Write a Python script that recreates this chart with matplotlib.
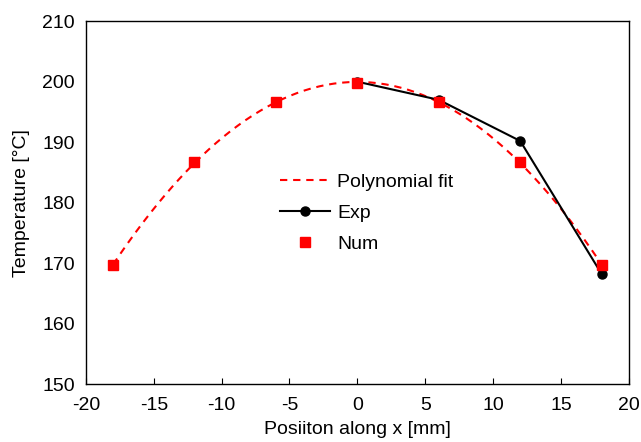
import numpy as np
import matplotlib
matplotlib.use("Agg")
import matplotlib.pyplot as plt

plt.rcParams['font.family'] = ['Liberation Sans', 'DejaVu Sans']
plt.rcParams['axes.unicode_minus'] = False

# donnees
x_num = [-18, -12, -6, 0, 6, 12, 18]
t_num = [169.7, 186.7, 196.6, 199.8, 196.6, 186.7, 169.7]

x_exp = [0, 6, 12, 18]
t_exp = [200.0, 197.0, 190.2, 168.2]

# ajuste polinomial (2a ordem) sobre os pontos numericos
coef = np.polyfit(x_num, t_num, 2)
x_fit = np.linspace(min(x_num), max(x_num), 200)
t_fit = np.polyval(coef, x_fit)

FS = 14

fig = plt.figure(figsize=(6.41, 4.42), dpi=100)
ax = fig.add_axes([0.134, 0.131, 0.847, 0.821])

ax.plot(x_fit, t_fit, color='red', linestyle=(0, (3.5, 2.8)), linewidth=1.5, label='Polynomial fit')
ax.plot(x_exp, t_exp, color='black', linewidth=1.5, marker='o', markersize=6.5, label='Exp')
ax.plot(x_num, t_num, color='red', linestyle='none', marker='s', markersize=6.5, label='Num')

ax.set_xlim(-20, 20)
ax.set_ylim(150, 210)
ax.set_xticks(range(-20, 21, 5))
ax.set_yticks(range(150, 211, 10))
ax.tick_params(axis='x', direction='in', length=4, labelsize=FS, pad=9)
ax.tick_params(axis='y', length=0, labelsize=FS, pad=8)
for s in ax.spines.values():
    s.set_linewidth(1.0)

ax.set_xlabel('Posiiton along x [mm]', fontsize=FS, labelpad=5)
ax.set_ylabel('Temperature [°C]', fontsize=FS, labelpad=9)

ax.legend(loc='upper left', bbox_to_anchor=(0.357, 0.58), frameon=False, fontsize=FS,
          handlelength=2.6, handletextpad=0.35, labelspacing=0.68,
          borderpad=0, borderaxespad=0)

fig.savefig('out.png', dpi=100)
